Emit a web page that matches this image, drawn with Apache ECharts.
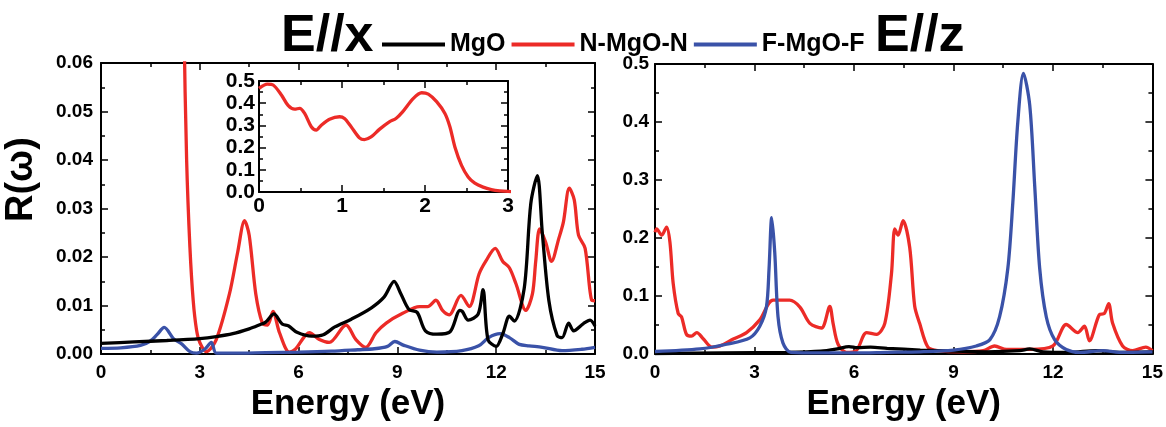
<!DOCTYPE html>
<html>
<head>
<meta charset="utf-8">
<script src="https://cdn.jsdelivr.net/npm/echarts@6/dist/echarts.min.js"></script>
<style>
html,body{margin:0;padding:0;background:#fff;}
#chart{width:1166px;height:427px;}
</style>
</head>
<body>
<div id="chart"></div>
<script>
// ---------- DATA ----------
const seriesNames = ['MgO', 'N-MgO-N', 'F-MgO-F'];
const panelTitles = ['E//x', 'E//z'];
const xTicksMain = [0, 3, 6, 9, 12, 15];

// E//x panel
const mgoX_e = [0, 1, 2, 3, 3.5, 4, 4.5, 4.8, 5.0, 5.25, 5.5, 5.7, 5.95, 6.4, 6.75, 7.1, 7.6, 8.2, 8.6, 8.9, 9.1, 9.35, 9.6, 9.85, 10.2, 10.6, 10.9, 10.97, 11.15, 11.45, 11.6, 11.75, 12.0, 12.2, 12.4, 12.55, 12.85, 13.05, 13.25, 13.4, 13.6, 13.85, 14.0, 14.2, 14.35, 14.65, 14.85, 15];
const mgoX_r = [0.0022, 0.0025, 0.0028, 0.0032, 0.0036, 0.0042, 0.0052, 0.006, 0.0066, 0.0083, 0.0062, 0.0058, 0.0045, 0.0037, 0.004, 0.0056, 0.0072, 0.0095, 0.0118, 0.015, 0.0125, 0.0092, 0.0086, 0.0048, 0.0041, 0.0046, 0.009, 0.0088, 0.007, 0.0082, 0.0133, 0.003, 0.0016, 0.0042, 0.0078, 0.0068, 0.0135, 0.031, 0.0368, 0.025, 0.011, 0.0038, 0.0034, 0.0064, 0.0048, 0.0063, 0.007, 0.0058];

const nX_e = [0, 0.1, 0.17, 0.27, 0.35, 0.43, 0.49, 0.55, 0.63, 0.69, 0.75, 0.85, 0.97, 1.03, 1.11, 1.21, 1.27, 1.35, 1.45, 1.57, 1.65, 1.73, 1.86, 1.96, 2.04, 2.14, 2.24, 2.3, 2.36, 2.44, 2.52, 2.6, 2.7, 2.8, 2.9, 3.0, 3.2, 3.5, 3.9, 4.15, 4.36, 4.5, 4.7, 4.9, 5.06, 5.22, 5.42, 5.72, 5.9, 6.33, 6.63, 6.93, 7.44, 7.74, 8.04, 8.35, 8.66, 9.16, 9.67, 9.92, 10.17, 10.37, 10.57, 10.93, 11.18, 11.48, 11.68, 11.97, 12.2, 12.4, 12.6, 12.9, 13.1, 13.2, 13.32, 13.5, 13.68, 13.9, 14.04, 14.22, 14.37, 14.5, 14.7, 14.9, 15];
const nX_r = [0.467, 0.486, 0.482, 0.437, 0.39, 0.373, 0.377, 0.354, 0.294, 0.279, 0.301, 0.328, 0.339, 0.331, 0.294, 0.244, 0.236, 0.248, 0.282, 0.316, 0.331, 0.361, 0.422, 0.447, 0.441, 0.407, 0.354, 0.294, 0.203, 0.12, 0.068, 0.04, 0.022, 0.011, 0.005, 0.0024, 0.0005, 0.003, 0.0124, 0.021, 0.0275, 0.0245, 0.0124, 0.0064, 0.006, 0.0088, 0.0044, 0.0004, 0.001, 0.0044, 0.003, 0.0024, 0.006, 0.003, 0.0014, 0.0044, 0.0064, 0.0084, 0.0098, 0.0098, 0.0111, 0.009, 0.0081, 0.0121, 0.0098, 0.0165, 0.0191, 0.0218, 0.0191, 0.0178, 0.0145, 0.009, 0.0124, 0.0191, 0.0258, 0.0231, 0.0191, 0.0238, 0.0272, 0.0342, 0.0318, 0.0245, 0.0218, 0.0111, 0.011];

const fX_e = [0, 0.6, 1.2, 1.5, 1.7, 1.92, 2.2, 2.45, 2.7, 2.9, 3.15, 3.35, 3.5, 4, 5, 6, 7, 7.8, 8.3, 8.7, 8.92, 9.2, 9.67, 10.2, 10.96, 11.47, 11.77, 12.12, 12.4, 12.7, 13.0, 13.4, 14.0, 14.6, 15];
const fX_r = [0.0012, 0.0013, 0.0018, 0.0027, 0.004, 0.0055, 0.0032, 0.0021, 0.0005, 0.0002, 0.001, 0.0024, 0.0002, 0.0002, 0.0003, 0.0004, 0.0006, 0.0009, 0.0011, 0.0016, 0.0026, 0.0018, 0.0008, 0.0004, 0.0007, 0.0017, 0.0034, 0.0042, 0.0034, 0.002, 0.0017, 0.0014, 0.0007, 0.001, 0.0014];

// E//z panel
const mgoZ_e = [0, 2, 4, 5, 5.5, 5.85, 6.1, 6.5, 7, 8, 9, 10, 11, 11.3, 11.7, 12.5, 13.3, 14, 15];
const mgoZ_r = [0.001, 0.002, 0.003, 0.005, 0.009, 0.013, 0.011, 0.012, 0.01, 0.007, 0.005, 0.004, 0.006, 0.009, 0.004, 0.003, 0.006, 0.003, 0.004];

const nZ_e = [0, 0.05, 0.2, 0.35, 0.45, 0.55, 0.7, 0.8, 0.95, 1.1, 1.26, 1.46, 1.71, 1.96, 2.36, 2.76, 3.16, 3.56, 4.06, 4.37, 4.67, 5.02, 5.27, 5.37, 5.52, 5.77, 6.07, 6.38, 6.68, 6.93, 7.13, 7.23, 7.33, 7.48, 7.68, 7.83, 7.98, 8.23, 8.53, 9.28, 9.9, 10.24, 10.6, 11.3, 12.0, 12.4, 12.75, 12.95, 13.1, 13.4, 13.55, 13.68, 13.8, 14.1, 14.4, 14.8, 15];
const nZ_r = [0.21, 0.216, 0.205, 0.219, 0.193, 0.121, 0.07, 0.064, 0.034, 0.031, 0.037, 0.026, 0.012, 0.014, 0.026, 0.037, 0.059, 0.093, 0.093, 0.081, 0.053, 0.045, 0.082, 0.053, 0.017, 0.003, 0.006, 0.037, 0.034, 0.053, 0.138, 0.216, 0.205, 0.23, 0.184, 0.083, 0.053, 0.012, 0.006, 0.004, 0.006, 0.014, 0.008, 0.008, 0.014, 0.051, 0.037, 0.048, 0.023, 0.068, 0.07, 0.087, 0.053, 0.014, 0.006, 0.012, 0.006];

const fZ_e = [0, 1.35, 2.16, 2.86, 3.16, 3.36, 3.44, 3.52, 3.61, 3.71, 3.86, 4.1, 5, 6, 7, 8, 9, 9.69, 10.1, 10.39, 10.64, 10.79, 10.94, 11.11, 11.3, 11.45, 11.6, 11.8, 12.05, 12.4, 12.8, 13.5, 14, 15];
const fZ_r = [0.0045, 0.009, 0.017, 0.028, 0.048, 0.081, 0.148, 0.235, 0.176, 0.064, 0.019, 0.003, 0.002, 0.002, 0.003, 0.004, 0.007, 0.014, 0.025, 0.064, 0.148, 0.261, 0.40, 0.484, 0.429, 0.29, 0.148, 0.064, 0.025, 0.008, 0.003, 0.006, 0.003, 0.004];

// ---------- CHART ----------
const pair = (xs, ys) => xs.map((x, i) => [x, ys[i]]);
const FONT = '"Liberation Sans", Arial, sans-serif';
const colors = { 'MgO': '#000000', 'N-MgO-N': '#ec2b27', 'F-MgO-F': '#3a52a8' };

const chart = echarts.init(document.getElementById('chart'), null, { renderer: 'canvas' });

function xAx(grid, pos, min, max, interval, showLabel, labelSize, margin, name) {
  return {
    type: 'value', gridIndex: grid, position: pos, min: min, max: max, interval: interval,
    axisLine: { show: true, onZero: false, lineStyle: { color: '#000', width: 2 } },
    axisTick: { show: true, inside: true, length: 7, lineStyle: { color: '#000', width: 1.5 } },
    minorTick: { show: true, splitNumber: 2, length: 4, lineStyle: { color: '#000', width: 1.5 } },
    splitLine: { show: false },
    axisLabel: { show: showLabel, color: '#000', fontFamily: FONT, fontWeight: 'bold', fontSize: labelSize, margin: margin },
    name: name || '', nameLocation: 'middle', nameGap: 28,
    nameTextStyle: { color: '#000', fontFamily: FONT, fontWeight: 'bold', fontSize: 35 }
  };
}
function yAx(grid, pos, min, max, interval, showLabel, labelSize, margin, digits, minorSplit) {
  return {
    type: 'value', gridIndex: grid, position: pos, min: min, max: max, interval: interval,
    axisLine: { show: true, onZero: false, lineStyle: { color: '#000', width: 2 } },
    axisTick: { show: true, inside: true, length: 7, lineStyle: { color: '#000', width: 1.5 } },
    minorTick: { show: true, splitNumber: minorSplit || 2, length: 4, lineStyle: { color: '#000', width: 1.5 } },
    splitLine: { show: false },
    axisLabel: { show: showLabel, color: '#000', fontFamily: FONT, fontWeight: 'bold', fontSize: labelSize, margin: margin,
      formatter: v => v.toFixed(digits) }
  };
}

const yLeft = yAx(0, 'left', 0, 0.06, 0.01, true, 19, 8, 2);
yLeft.name = 'R(ω)';
yLeft.nameLocation = 'middle';
yLeft.nameGap = 60;
yLeft.nameTextStyle = { color: '#000', fontFamily: FONT, fontWeight: 'bold', fontSize: 38, padding: [0, 0, 0, 58] };

function line(name, xi, yi, data, z) {
  return {
    name: name, type: 'line', xAxisIndex: xi, yAxisIndex: yi, data: data,
    showSymbol: false, symbol: 'none', smooth: 0.3, clip: true, z: z,
    lineStyle: { color: colors[name], width: 3.3 }, itemStyle: { color: colors[name] }
  };
}

const option = {
  animation: false,
  backgroundColor: '#fff',
  textStyle: { fontFamily: FONT },
  title: [
    { text: panelTitles[0], left: 276, top: 6, textStyle: { fontFamily: FONT, fontWeight: 'bold', fontSize: 52, color: '#000' } },
    { text: panelTitles[1], left: 870, top: 6, textStyle: { fontFamily: FONT, fontWeight: 'bold', fontSize: 52, color: '#000' } }
  ],
  legend: {
    data: seriesNames.map(n => ({ name: n, icon: 'rect', itemStyle: { color: colors[n] } })),
    left: 377, top: 27, itemWidth: 63, itemHeight: 4, itemGap: 6,
    textStyle: { fontFamily: FONT, fontWeight: 'bold', fontSize: 25, color: '#000' }
  },
  grid: [
    { left: 101, top: 63, width: 494, height: 299, show: false },
    { left: 655, top: 64, width: 498, height: 298, show: false },
    { left: 259, top: 81, width: 249, height: 111, show: true, backgroundColor: '#fff', borderWidth: 0, z: 5 }
  ],
  xAxis: [
    xAx(0, 'bottom', 0, 15, 3, true, 19, 9, 'Energy (eV)'),
    xAx(0, 'top', 0, 15, 3, false, 19, 9),
    xAx(1, 'bottom', 0, 15, 3, true, 19, 9, 'Energy (eV)'),
    xAx(1, 'top', 0, 15, 3, false, 19, 9),
    Object.assign(xAx(2, 'bottom', 0, 3, 1, true, 21, 4), { z: 6 }),
    Object.assign(xAx(2, 'top', 0, 3, 1, false, 21, 4), { z: 6 })
  ],
  yAxis: [
    yLeft,
    yAx(0, 'right', 0, 0.06, 0.01, false, 19, 8, 2),
    yAx(1, 'left', 0, 0.5, 0.1, true, 19, 6, 1),
    yAx(1, 'right', 0, 0.5, 0.1, false, 19, 6, 1),
    Object.assign(yAx(2, 'left', 0, 0.5, 0.1, true, 21, 4, 1), { z: 6 }),
    Object.assign(yAx(2, 'right', 0, 0.5, 0.1, false, 21, 4, 1), { z: 6 })
  ],
  series: [
    line('N-MgO-N', 0, 0, pair(nX_e, nX_r), 2),
    line('F-MgO-F', 0, 0, pair(fX_e, fX_r), 3),
    line('MgO', 0, 0, pair(mgoX_e, mgoX_r), 4),
    line('N-MgO-N', 2, 2, pair(nZ_e, nZ_r), 2),
    line('MgO', 2, 2, pair(mgoZ_e, mgoZ_r), 3),
    line('F-MgO-F', 2, 2, pair(fZ_e, fZ_r), 4),
    line('N-MgO-N', 4, 4, pair(nX_e, nX_r), 7)
  ]
};
chart.setOption(option);
</script>
</body>
</html>
